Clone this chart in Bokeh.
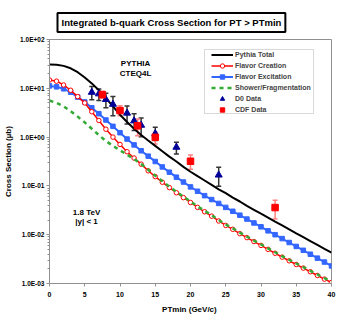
from bokeh.plotting import figure
from bokeh.models import (ColumnDataSource, FixedTicker, Label, Legend, LegendItem,
                          Whisker, TeeHead, BoxAnnotation, Range1d)
from bokeh.embed import file_html
from bokeh.resources import INLINE

# ---------------- data ----------------
pt = list(range(0, 41))
pythia_total = [30.9, 30.5, 28.8, 25.7, 21.4, 16.6, 12.6, 9.12, 6.31, 4.27,
                2.88, 2.04, 1.48, 1.10, 0.851, 0.661, 0.513, 0.398, 0.316, 0.245,
                0.195, 0.158, 0.129, 0.105, 0.0851, 0.0708, 0.0575, 0.0479, 0.0389, 0.0324,
                0.0269, 0.0224, 0.0186, 0.0155, 0.0129, 0.0107, 0.00891, 0.00741, 0.00617, 0.00513,
                0.00427]
flavor_creation = [14.8, 14.0, 11.7, 9.12, 6.76, 5.01, 3.31, 2.19, 1.45, 1.00,
                   0.708, 0.501, 0.372, 0.279, 0.204, 0.155, 0.119, 0.0923, 0.0724, 0.0575,
                   0.0457, 0.0363, 0.0295, 0.0240, 0.0191, 0.0155, 0.0129, 0.0105, 0.00871, 0.00724,
                   0.00603, 0.00501, 0.00417, 0.00347, 0.00292, 0.00245, 0.00207, 0.00174, 0.00146, 0.00123,
                   0.00105]
flavor_excitation = [11.2, 10.7, 9.77, 8.32, 6.61, 5.25, 3.98, 3.02, 2.24, 1.66,
                     1.23, 0.912, 0.692, 0.525, 0.407, 0.316, 0.245, 0.191, 0.151, 0.120,
                     0.0955, 0.0776, 0.0631, 0.0525, 0.0437, 0.0363, 0.0302, 0.0251, 0.0209, 0.0174,
                     0.0145, 0.0120, 0.0100, 0.00832, 0.00692, 0.00575, 0.00479, 0.00398, 0.00331, 0.00275,
                     0.00229]
shower_frag = [5.62, 5.01, 4.27, 3.39, 2.63, 2.00, 1.48, 1.10, 0.832, 0.661,
               0.537, 0.437, 0.355, 0.282, 0.214, 0.162, 0.125, 0.0966, 0.0759, 0.0603,
               0.0479, 0.0380, 0.0309, 0.0251, 0.0200, 0.0162, 0.0135, 0.0110, 0.00912, 0.00759,
               0.00631, 0.00525, 0.00437, 0.00363, 0.00306, 0.00257, 0.00217, 0.00182, 0.00153, 0.00129,
               0.00110]

d0_pt = [6, 7, 8, 9, 11, 12, 13, 15, 18, 24]
d0_val = [8.3, 7.7, 5.9, 4.7, 3.1, 2.15, 1.75, 1.18, 0.62, 0.167]
d0_hi = [10.9, 9.7, 7.9, 6.8, 4.35, 3.0, 2.47, 1.6, 0.78, 0.24]
d0_lo = [5.8, 5.6, 4.0, 2.75, 1.86, 1.36, 1.02, 0.85, 0.45, 0.098]

cdf_pt = [7.5, 10, 12.5, 15, 20, 32]
cdf_val = [7.4, 3.5, 1.7, 0.99, 0.32, 0.036]
cdf_hi = [8.7, 4.4, 2.36, 1.25, 0.43, 0.051]
cdf_lo = [6.3, 2.75, 1.07, 0.72, 0.22, 0.021]

x_ticks = [0, 5, 10, 15, 20, 25, 30, 35, 40]
y_ticks = [0.001, 0.01, 0.1, 1, 10, 100]
y_tick_labels = ["1.0E-03", "1.0E-02", "1.0E-01", "1.0E+00", "1.0E+01", "1.0E+02"]
y_minor = [m * d for d in [0.001, 0.01, 0.1, 1, 10] for m in range(2, 10)]

title_text = "Integrated b-quark Cross Section for PT > PTmin"
x_title = "PTmin  (GeV/c)"
y_title = "Cross Section (µb)"
legend_labels = ["Pythia Total", "Flavor Creation", "Flavor Excitation",
                 "Shower/Fragmentation", "D0 Data", "CDF Data"]

FONT = "Liberation Sans"
AX = "#909090"

# ---------------- figure ----------------
W, H = 347, 321
p = figure(width=W, height=H, x_range=Range1d(0, 40), y_range=Range1d(1e-3, 1e2),
           y_axis_type="log", output_backend="svg", toolbar_location=None,
           min_border_left=49, min_border_right=16, min_border_top=39, min_border_bottom=38,
           background_fill_color="white", border_fill_color="white")
p.styles = {"outline": "3px solid black", "outline-offset": "-5px"}
p.xgrid.visible = False
p.ygrid.visible = False
p.outline_line_color = AX
p.outline_line_width = 1

# title with a black box
p.title.text = title_text
p.title.align = "left"
p.title.offset = 8
p.title.standoff = 15
p.title.text_font = FONT
p.title.text_font_style = "bold"
p.title.text_font_size = "9.5px"
p.title.text_color = "black"
p.title.border_line_color = "black"
p.title.border_line_width = 2
p.title.background_fill_color = "white"
p.title.padding = 4

p.xaxis.ticker = FixedTicker(ticks=x_ticks)
p.yaxis.ticker = FixedTicker(ticks=y_ticks, minor_ticks=y_minor)
p.yaxis.major_label_overrides = dict(zip(y_ticks, y_tick_labels))
for ax in (p.xaxis[0], p.yaxis[0]):
    ax.axis_line_color = AX
    ax.major_tick_line_color = AX
    ax.minor_tick_line_color = AX
    ax.major_tick_in = 0
    ax.major_tick_out = 3
    ax.minor_tick_in = 0
    ax.minor_tick_out = 2
    ax.major_label_text_font = FONT
    ax.major_label_text_font_style = "bold"
    ax.major_label_text_color = "black"
    ax.axis_label_text_font = FONT
    ax.axis_label_text_font_style = "bold"
    ax.axis_label_text_font_size = "8px"
    ax.axis_label_text_color = "black"
p.xaxis.minor_tick_out = 0
p.xaxis.major_label_text_font_size = "7px"
p.xaxis.major_label_standoff = 5
p.xaxis.axis_label = x_title
p.xaxis.axis_label_standoff = 5
p.yaxis.major_label_text_font_size = "6.5px"
p.yaxis.major_label_standoff = 2
p.yaxis.axis_label = y_title
p.yaxis.axis_label_standoff = 4

# ---------------- curves ----------------
blue = "#3366ff"
green = "#33aa33"
r_fe_l = p.line(pt, flavor_excitation, line_color=blue, line_width=2)
r_fe_m = p.scatter(pt, flavor_excitation, marker="square", size=4.5, fill_color=blue, line_color=blue)
r_fc_l = p.line(pt, flavor_creation, line_color="red", line_width=1.5)
r_fc_m = p.scatter(pt, flavor_creation, marker="circle", size=4.5, fill_color="white",
                   line_color="red", line_width=1)
r_sf = p.line(pt, shower_frag, line_color=green, line_width=2.5, line_dash="4 4")
r_tot = p.line(pt, pythia_total, line_color="black", line_width=2)

# ---------------- data points ----------------
d0_src = ColumnDataSource(dict(x=d0_pt, y=d0_val, hi=d0_hi, lo=d0_lo))
cdf_src = ColumnDataSource(dict(x=cdf_pt, y=cdf_val, hi=cdf_hi, lo=cdf_lo))
p.add_layout(Whisker(source=d0_src, base="x", upper="hi", lower="lo", line_color="#333333",
                     line_width=1.5,
                     upper_head=TeeHead(size=5, line_color="#333333", line_width=1.5),
                     lower_head=TeeHead(size=5, line_color="#333333", line_width=1.5)))
p.add_layout(Whisker(source=cdf_src, base="x", upper="hi", lower="lo", line_color="#ff8080",
                     line_width=1.5,
                     upper_head=TeeHead(size=5, line_color="#ff8080", line_width=1.5),
                     lower_head=TeeHead(size=5, line_color="#ff8080", line_width=1.5)))
r_d0 = p.scatter("x", "y", source=d0_src, marker="triangle", size=7, fill_color="#000099",
                 line_color="#000099")
r_cdf = p.scatter("x", "y", source=cdf_src, marker="square", size=6.5, fill_color="red",
                  line_color="red")

# ---------------- legend ----------------
p.add_layout(BoxAnnotation(left=155, right=264, bottom=170, top=234,
                           left_units="screen", right_units="screen",
                           top_units="screen", bottom_units="screen",
                           fill_color="white", fill_alpha=1, line_color="#808080",
                           line_width=1))
items = [LegendItem(label=legend_labels[0], renderers=[r_tot]),
         LegendItem(label=legend_labels[1], renderers=[r_fc_l, r_fc_m]),
         LegendItem(label=legend_labels[2], renderers=[r_fe_l, r_fe_m]),
         LegendItem(label=legend_labels[3], renderers=[r_sf]),
         LegendItem(label=legend_labels[4], renderers=[r_d0]),
         LegendItem(label=legend_labels[5], renderers=[r_cdf])]
legend = Legend(items=items, location=(162, 168), glyph_width=22, glyph_height=11,
                label_height=11, spacing=0, padding=0, margin=0, label_standoff=2,
                border_line_alpha=0, background_fill_alpha=0,
                label_text_font=FONT, label_text_font_style="bold",
                label_text_font_size="7px")
p.add_layout(legend, "center")

# ---------------- texts inside the plot ----------------
def lab(x, y, text, size):
    p.add_layout(Label(x=x, y=y, x_units="screen", y_units="screen", text=text,
                       text_align="center", text_baseline="middle",
                       text_font=FONT, text_font_style="bold", text_font_size=size,
                       text_color="black"))

lab(86, 220, "PYTHIA", "8px")
lab(86, 210, "CTEQ4L", "8px")
lab(37, 71, "1.8 TeV", "8px")
lab(37, 62, "|y| < 1", "8px")

open("out.html", "w").write(file_html(p, INLINE))
